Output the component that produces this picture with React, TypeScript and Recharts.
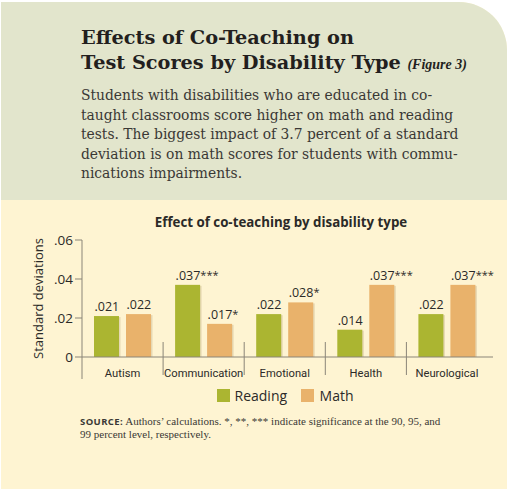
import React from 'react';
import { BarChart, Bar, XAxis, YAxis, LabelList } from 'recharts';

const categories = ['Autism', 'Communication', 'Emotional', 'Health', 'Neurological'];
const reading = [0.021, 0.037, 0.022, 0.014, 0.022];
const math = [0.022, 0.017, 0.028, 0.037, 0.037];
const readingLabels = ['.021', '.037***', '.022', '.014', '.022'];
const mathLabels = ['.022', '.017*', '.028*', '.037***', '.037***'];
const yTicks = [0, 0.02, 0.04, 0.06];
const yTickLabels = ['0', '.02', '.04', '.06'];

const GREEN = '#abb531';
const ORANGE = '#e9b26b';
const INK = '#2b2a28';
const SANS = "'Open Sans', 'DejaVu Sans', sans-serif";
const NARROW = "Roboto, 'Open Sans', sans-serif";
const SERIF = "'Liberation Serif', 'DejaVu Serif', serif";
const WIDE_SERIF = "'DejaVu Serif', serif";
const BODY_SERIF = "'DejaVu Serif Condensed', 'DejaVu Serif', serif";

const chartData = categories.map((name, i) => ({
  name,
  reading: reading[i],
  math: math[i],
  readingLabel: readingLabels[i],
  mathLabel: mathLabels[i],
}));

const BarShape = (props: any) => {
  const { x, y, width, height, fill } = props;
  if (!height || height <= 0) return null;
  return (
    <g>
      <rect x={x + 1.5} y={y + 1} width={width} height={height - 1} fill="rgba(120,90,40,0.18)" />
      <rect x={x} y={y} width={width} height={height} fill={fill} />
    </g>
  );
};

const ValueLabel = (props: any) => {
  const { x, y, width, value } = props;
  const str = String(value);
  const num = str.replace(/\*/g, '');
  const stars = str.slice(num.length);
  const cx = x + width / 2;
  const half = 12;
  return (
    <text x={cx - half} y={y - 5} fontFamily={SANS} fontSize={12.5} fill={INK} textAnchor="start">
      {num}
      {stars && <tspan fontSize={11} dy={-1}>{stars}</tspan>}
    </text>
  );
};

const CategoryTick = (props: any) => {
  const { x, y, payload, index } = props;
  const half = payload.offset || 0;
  const left = x - half;
  return (
    <g>
      {index === 0 ? (
        <line x1={left} x2={left} y1={y} y2={y + 22} stroke="#8a8578" strokeWidth={1} />
      ) : (
        <line x1={left} x2={left} y1={y - 15} y2={y + 18} stroke="#8a8578" strokeWidth={1} />
      )}
      <text x={x} y={y + 19.5} textAnchor="middle" fontFamily={NARROW} fontSize={11.2} fill={INK}>
        {payload.value}
      </text>
    </g>
  );
};

export default function App() {
  return (
    <div style={{ position: 'absolute', left: 0, top: 0, width: 509, height: 489, background: '#ffffff', overflow: 'hidden' }}>
      <div
        style={{
          position: 'absolute',
          left: 1,
          top: 2,
          width: 506,
          height: 487,
          borderTopRightRadius: 48,
          overflow: 'hidden',
          background: '#fef4d2',
        }}
      >
        <div style={{ position: 'absolute', left: 0, top: 0, width: 506, height: 198, background: '#e2e5cc' }} />
      </div>

      <div
        style={{
          position: 'absolute',
          left: 81,
          top: 25,
          fontFamily: WIDE_SERIF,
          fontWeight: 700,
          fontSize: 19.3,
          lineHeight: '25px',
          color: '#231f1e',
          whiteSpace: 'nowrap',
        }}
      >
        <div>Effects of Co-Teaching on</div>
        <div>
          Test Scores by Disability Type{' '}
          <span style={{ fontFamily: SERIF, fontStyle: 'italic', fontSize: 14, fontWeight: 700 }}>(Figure 3)</span>
        </div>
      </div>

      <div
        style={{
          position: 'absolute',
          left: 81,
          top: 86,
          fontFamily: BODY_SERIF,
          fontSize: 15.4,
          lineHeight: '19.6px',
          color: '#3a3835',
          whiteSpace: 'nowrap',
        }}
      >
        <div>Students with disabilities who are educated in co-</div>
        <div>taught classrooms score higher on math and reading</div>
        <div>tests. The biggest impact of 3.7 percent of a standard</div>
        <div>deviation is on math scores for students with commu-</div>
        <div>nications impairments.</div>
      </div>

      <div
        style={{
          position: 'absolute',
          left: 0,
          width: 562,
          top: 213,
          textAlign: 'center',
          fontFamily: SANS,
          fontWeight: 700,
          fontSize: 13.3,
          color: INK,
          whiteSpace: 'nowrap',
        }}
      >
        Effect of co-teaching by disability type
      </div>

      <div style={{ position: 'absolute', left: 0, top: 200 }}>
        <BarChart
          width={509}
          height={230}
          data={chartData}
          margin={{ top: 40, right: 16, bottom: 43, left: 0 }}
          barGap={7}
          barSize={25}
        >
          <XAxis
            dataKey="name"
            axisLine={{ stroke: '#8a8578', strokeWidth: 1 }}
            tickLine={false}
            tickSize={0}
            tickMargin={0}
            padding={{ left: 0, right: 5.5 }}
            interval={0}
            tick={<CategoryTick />}
          />
          <YAxis
            width={82}
            domain={[0, 0.06]}
            ticks={yTicks}
            tickFormatter={(v: number) => yTickLabels[yTicks.indexOf(v)] ?? String(v)}
            axisLine={{ stroke: '#8a8578', strokeWidth: 1 }}
            tickLine={{ stroke: '#8a8578', strokeWidth: 1 }}
            tickSize={7}
            tickMargin={2}
            tick={{ fontFamily: SANS, fontSize: 13.5, fill: INK }}
            label={{
              value: 'Standard deviations',
              angle: -90,
              position: 'center',
              dx: -3,
              style: { fontFamily: SANS, fontSize: 13, fill: INK },
            }}
          />
          <Bar dataKey="reading" fill={GREEN} shape={<BarShape />} isAnimationActive={false}>
            <LabelList dataKey="readingLabel" content={<ValueLabel />} />
          </Bar>
          <Bar dataKey="math" fill={ORANGE} shape={<BarShape />} isAnimationActive={false}>
            <LabelList dataKey="mathLabel" content={<ValueLabel />} />
          </Bar>
        </BarChart>
      </div>

      <div
        style={{
          position: 'absolute',
          left: 217,
          top: 386,
          display: 'flex',
          alignItems: 'center',
          fontFamily: SANS,
          fontSize: 14,
          color: INK,
          whiteSpace: 'nowrap',
        }}
      >
        <span style={{ width: 12.5, height: 12.5, background: GREEN, display: 'inline-block', marginRight: 5 }} />
        <span style={{ marginRight: 14 }}>Reading</span>
        <span style={{ width: 12.5, height: 12.5, background: ORANGE, display: 'inline-block', marginRight: 6 }} />
        <span>Math</span>
      </div>

      <div
        style={{
          position: 'absolute',
          left: 80,
          top: 415,
          fontFamily: SERIF,
          fontSize: 11,
          lineHeight: '13px',
          color: '#3a3835',
          whiteSpace: 'nowrap',
        }}
      >
        <div>
          <span style={{ fontFamily: SANS, fontWeight: 700, fontSize: 9.5, letterSpacing: 0.4 }}>SOURCE:</span> Authors’
          calculations. *, **, *** indicate significance at the 90, 95, and
        </div>
        <div>99 percent level, respectively.</div>
      </div>
    </div>
  );
}
